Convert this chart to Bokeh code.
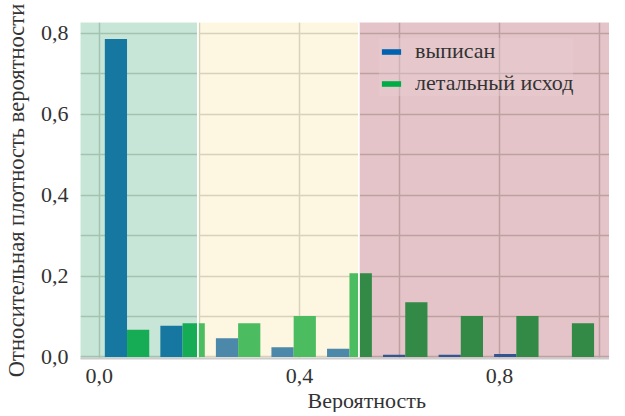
from bokeh.plotting import figure
from bokeh.models import (Range1d, FixedTicker, Legend, LegendItem, Title)
from bokeh.embed import file_html
from bokeh.resources import INLINE

# ---- data ----
bin_edges = [0.0, 0.111, 0.222, 0.333, 0.444, 0.556, 0.667, 0.778, 0.889, 1.0]
discharged = [0.786, 0.077, 0.046, 0.024, 0.020, 0.005, 0.005, 0.007, 0.0]
lethal = [0.067, 0.083, 0.083, 0.101, 0.207, 0.135, 0.101, 0.101, 0.083]
series_names = ["выписан", "летальный исход"]
region_bounds = [-0.2, 0.197, 0.519, 1.2]
x_ticks = [0.0, 0.4, 0.8]
x_tick_labels = ["0,0", "0,4", "0,8"]
x_grid = [0.0, 0.2, 0.4, 0.6, 0.8, 1.0]
y_ticks = [0.0, 0.2, 0.4, 0.6, 0.8]
y_tick_labels = ["0,0", "0,2", "0,4", "0,6", "0,8"]
y_grid = [0.0, 0.1, 0.2, 0.3, 0.4, 0.5, 0.6, 0.7, 0.8]

FONT = "'Liberation Serif'"
TXT = "#333333"

p = figure(width=609, height=412, output_backend="svg", toolbar_location=None,
           x_range=Range1d(-0.0375, 1.0197), y_range=Range1d(-0.004, 0.827),
           min_border_left=73, min_border_right=0, min_border_top=22,
           min_border_bottom=10)
p.outline_line_color = None
p.background_fill_color = "white"

# bars
centers = [(a + b) / 2 for a, b in zip(bin_edges[:-1], bin_edges[1:])]
widths = [(b - a) * 0.4 for a, b in zip(bin_edges[:-1], bin_edges[1:])]
xb = [c - w / 2 for c, w in zip(centers, widths)]
xg = [c + w / 2 for c, w in zip(centers, widths)]
r1 = p.vbar(x=xb, top=discharged, width=widths, bottom=0,
            fill_color="#0062b0", line_color=None)
r2 = p.vbar(x=xg, top=lethal, width=widths, bottom=0,
            fill_color="#00ac45", line_color=None)

# tinted regions over everything
region_colors = ["#48ac7a", "#f8e19b", "#a53a48"]
p.quad(left=region_bounds[:-1], right=region_bounds[1:], bottom=-1, top=2,
       fill_color=region_colors, fill_alpha=0.3,
       line_color="white", line_width=1.5)

# grid
p.xgrid.ticker = FixedTicker(ticks=x_grid)
p.ygrid.ticker = FixedTicker(ticks=y_grid)
for g in (p.xgrid, p.ygrid):
    g.grid_line_color = "#c8cdc8"
    g.grid_line_width = 1.5

# axes
p.xaxis.ticker = FixedTicker(ticks=x_ticks)
p.xaxis.major_label_overrides = dict(zip(x_ticks, x_tick_labels))
p.yaxis.ticker = FixedTicker(ticks=y_ticks)
p.yaxis.major_label_overrides = dict(zip(y_ticks, y_tick_labels))
for ax in (p.xaxis, p.yaxis):
    ax.major_tick_line_color = None
    ax.minor_tick_line_color = None
    ax.major_label_text_font = FONT
    ax.major_label_text_font_size = "22px"
    ax.major_label_text_color = TXT
    ax.axis_label_text_font = FONT
    ax.axis_label_text_font_style = "normal"
    ax.axis_label_text_color = TXT
p.yaxis.axis_line_color = None
p.xaxis.axis_line_color = "#cccccc"
p.xaxis.axis_line_width = 2
p.xaxis.major_label_standoff = 4
p.yaxis.major_label_standoff = 6
p.yaxis.axis_label = "Относительная плотность вероятности"
p.yaxis.axis_label_text_font_size = "22.5px"
p.yaxis.axis_label_standoff = 9

xt = Title(text="Вероятность", align="left", offset=227,
           text_font=FONT, text_font_size="22px", text_font_style="normal",
           text_color=TXT, standoff=0)
p.add_layout(xt, "below")

legend = Legend(items=[LegendItem(label=series_names[0], renderers=[r1]),
                       LegendItem(label=series_names[1], renderers=[r2])],
                location=(299, 262), orientation="vertical",
                glyph_width=24, glyph_height=7, label_height=20,
                spacing=6, padding=10, margin=0,
                label_text_font=FONT, label_text_font_size="22px",
                label_text_color=TXT, label_standoff=12,
                background_fill_color="#e8cfd2", background_fill_alpha=0.4,
                border_line_color=None)
p.add_layout(legend, "center")

open("out.html", "w").write(file_html(p, INLINE))
